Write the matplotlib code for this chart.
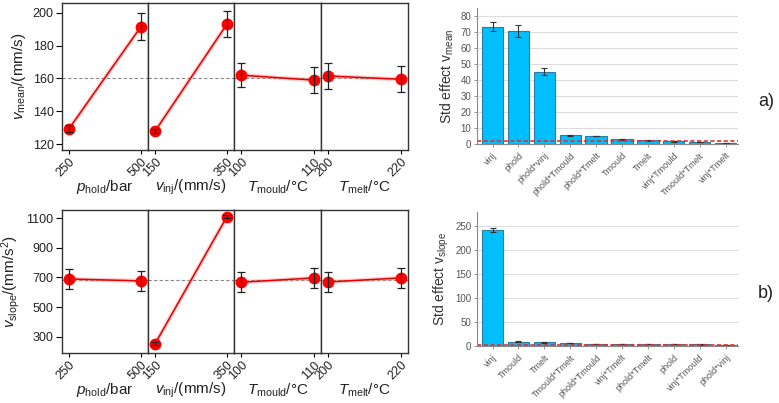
import matplotlib
matplotlib.use("Agg")
import matplotlib.pyplot as plt

plt.rcParams['font.family'] = ['Liberation Sans', 'DejaVu Sans']
plt.rcParams['mathtext.fontset'] = 'custom'
plt.rcParams['mathtext.rm'] = 'Liberation Sans'
plt.rcParams['mathtext.it'] = 'Liberation Sans:italic'

# factor levels (main effect plots)
hold_levels = [250, 500]
inj_levels = [150, 350]
mould_levels = [100, 110]
melt_levels = [200, 220]
factor_labels = ['$p_\\mathrm{hold}$/bar', '$v_\\mathrm{inj}$/(mm/s)',
                 '$T_\\mathrm{mould}$/°C', '$T_\\mathrm{melt}$/°C']

# v_mean main effects
vmean_y = [[129.5, 191.5], [128, 193], [162, 159], [161.5, 159.5]]
vmean_err = [[2, 8.3], [1.5, 8], [7.5, 8], [7.7, 8]]
vmean_grand = 160.5

# v_slope main effects
vslope_y = [[690, 677], [255, 1108], [668, 697], [670, 697]]
vslope_err = [[66, 68], [10, 10], [68, 66], [70, 66]]
vslope_grand = 683

# standardized effects (pareto bars)
mean_terms = ['vinj', 'phold', 'phold*vinj', 'phold*Tmould', 'phold*Tmelt',
              'Tmould', 'Tmelt', 'vinj*Tmould', 'Tmould*Tmelt', 'vinj*Tmelt']
mean_effect = [73.3, 70.6, 45.2, 5.6, 5.0, 3.1, 2.3, 1.7, 1.25, 0.6]
mean_effect_err = [2.9, 3.9, 2.3, 0.3, 0.3, 0.3, 0.2, 0.2, 0.2, 0.2]
mean_limit = 1.7

slope_terms = ['vinj', 'Tmould', 'Tmelt', 'Tmould*Tmelt', 'phold*Tmould',
               'vinj*Tmelt', 'phold*Tmelt', 'phold', 'vinj*Tmould', 'phold*vinj']
slope_effect = [241, 8.8, 7.4, 6.0, 4.7, 4.7, 4.0, 4.0, 3.4, 2.0]
slope_effect_err = [3.7, 0.6, 0.5, 0.5, 0.5, 0.5, 0.5, 0.5, 0.5, 0.5]
slope_limit = 2.0

W, H = 779, 403
fig = plt.figure(figsize=(W / 100, H / 100), dpi=100)


def px_axes(x0, x1, ytop, ybot):
    return fig.add_axes([x0 / W, (H - ybot) / H, (x1 - x0) / W, (ybot - ytop) / H])


def main_effects(ytop, ybot, ys, errs, grand, ylim, yticks, ylabel):
    levels = [hold_levels, inj_levels, mould_levels, melt_levels]
    edges = [62, 148, 234, 321, 408]
    for i in range(4):
        ax = px_axes(edges[i], edges[i + 1], ytop, ybot)
        lv = levels[i]
        rng = lv[1] - lv[0]
        ax.set_xlim(lv[0] - 0.1 * rng, lv[1] + 0.1 * rng)
        ax.set_ylim(*ylim)
        ax.axhline(grand, color='#888888', ls=(0, (3, 2)), lw=0.8, zorder=1)
        ax.plot(lv, ys[i], color='#ff8080', lw=3, alpha=0.4, zorder=2)
        ax.plot(lv, ys[i], color='#e00000', lw=1.1, zorder=3)
        ax.plot(lv, ys[i], 'o', color='#ff0000', ms=7.5, zorder=4)
        ax.errorbar(lv, ys[i], yerr=errs[i], fmt='none', ecolor='#222222',
                    elinewidth=0.9, capsize=3, capthick=0.9, zorder=5)
        ax.set_xticks(lv)
        ax.set_xticklabels([str(v) for v in lv], rotation=45, ha='right',
                           rotation_mode='anchor', fontsize=9, color='#222222')
        ax.set_xlabel(factor_labels[i], fontsize=11, color='#222222', labelpad=-1)
        ax.tick_params(axis='x', length=3, width=0.8, pad=1.5)
        for s in ax.spines.values():
            s.set_color('#333333')
            s.set_linewidth(1.0)
        if i == 0:
            ax.set_yticks(yticks)
            ax.tick_params(axis='y', length=4, width=0.8, labelsize=9,
                           labelcolor='#222222', pad=2)
            ax.set_ylabel(ylabel, fontsize=11, color='#222222', labelpad=3)
        else:
            ax.set_yticks([])


def pareto(ytop, ybot, terms, vals, errs, limit, ylim, yticks, ylabel):
    ax = px_axes(477, 738, ytop, ybot)
    xs = list(range(len(terms)))
    ax.set_axisbelow(True)
    ax.yaxis.grid(True, color='#dddddd', lw=0.8)
    ax.bar(xs, vals, width=0.82, color='#00bfff', edgecolor='#2b7ca3', lw=0.8)
    ax.errorbar(xs, vals, yerr=errs, fmt='none', ecolor='#333333',
                elinewidth=0.8, capsize=2, capthick=0.8)
    ax.axhline(limit, color='#e03030', ls=(0, (2.5, 1.5)), lw=1.2)
    ax.set_xlim(-0.6, len(terms) - 0.52)
    ax.set_ylim(*ylim)
    ax.set_yticks(yticks)
    ax.set_xticks(xs)
    ax.set_xticklabels(terms, rotation=45, ha='right', rotation_mode='anchor',
                       fontsize=6.5, color='#555555')
    ax.tick_params(axis='both', length=2.5, width=0.6, color='#888888',
                   labelcolor='#555555')
    ax.tick_params(axis='y', labelsize=7, pad=1.5)
    ax.tick_params(axis='x', pad=2.5)
    for s in ['top', 'right']:
        ax.spines[s].set_visible(False)
    for s in ['left', 'bottom']:
        ax.spines[s].set_color('#888888')
        ax.spines[s].set_linewidth(0.8)
    ax.set_ylabel(ylabel, fontsize=10, color='#333333', labelpad=3)
    return ax


main_effects(3, 150, vmean_y, vmean_err, vmean_grand, (116.4, 206),
             [120, 140, 160, 180, 200], '$v_\\mathrm{mean}$/(mm/s)')
main_effects(210, 353, vslope_y, vslope_err, vslope_grand, (192, 1154),
             [300, 500, 700, 900, 1100], '$v_\\mathrm{slope}$/(mm/s$^2$)')

pareto(8, 144, mean_terms, mean_effect, mean_effect_err, mean_limit,
       (0, 85), [0, 10, 20, 30, 40, 50, 60, 70, 80], 'Std effect v$_\\mathrm{mean}$')
pareto(212, 346, slope_terms, slope_effect, slope_effect_err, slope_limit,
       (0, 279), [0, 50, 100, 150, 200, 250], 'Std effect v$_\\mathrm{slope}$')

fig.text(766 / W, 1 - 102 / H, 'a)', fontsize=13, color='#222222',
         ha='center', va='center')
fig.text(766 / W, 1 - 293 / H, 'b)', fontsize=13, color='#222222',
         ha='center', va='center')

fig.savefig('out.png', dpi=100)
